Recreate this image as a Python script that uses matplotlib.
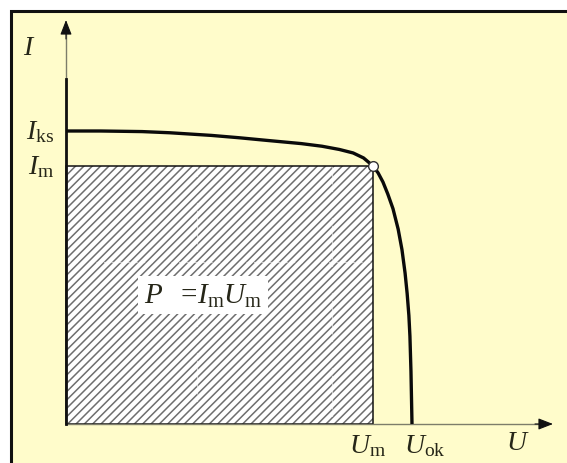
import matplotlib
matplotlib.use("Agg")
import matplotlib.pyplot as plt
from matplotlib.patches import Rectangle

plt.rcParams['mathtext.fontset'] = 'custom'
plt.rcParams['mathtext.it'] = 'Liberation Serif:italic'
plt.rcParams['mathtext.rm'] = 'Liberation Serif'
plt.rcParams['mathtext.bf'] = 'Liberation Serif:bold'
plt.rcParams['font.family'] = ['Liberation Serif', 'DejaVu Serif']
plt.rcParams['hatch.linewidth'] = 1.1

# ---- data (normalised: U_ok = 1, I_ks = 1) ----
U_curve = [0.0, 0.10, 0.22, 0.30, 0.42, 0.50, 0.58, 0.68, 0.74, 0.79, 0.83, 0.86, 0.887,
           0.902, 0.916, 0.930, 0.945, 0.960, 0.971, 0.980, 0.986, 0.991, 0.994, 0.997, 1.0]
I_curve = [1.0, 1.0, 0.998, 0.994, 0.985, 0.977, 0.968, 0.957, 0.948, 0.937, 0.925, 0.908, 0.881,
           0.857, 0.826, 0.785, 0.735, 0.665, 0.595, 0.515, 0.445, 0.370, 0.300, 0.180, 0.0]
I_ks = 1.0
I_m = 0.881
U_m = 0.887
U_ok = 1.0
grid_U = [0.379, 0.769]
grid_I = [0.553]

# pixel layout helpers (origin at pixel (66,425); 346 px per U unit, 293 px per I unit)
X0, Y0, SX, SY = 66, 425, 346, 293
def px(x):
    return (x - X0) / SX
def py(y):
    return (Y0 - y) / SY

fig = plt.figure(figsize=(5.67, 4.64), dpi=100)
fig.patch.set_facecolor('white')
ax = fig.add_axes([0, 0, 1, 1])
ax.set_xlim(px(0), px(567))
ax.set_ylim(py(464), py(0))
ax.axis('off')

# background frame
ax.add_patch(Rectangle((px(11), py(490)), px(600) - px(11), py(12) - py(490),
                       facecolor='#FFFCCB', edgecolor='#111111', lw=2.2, zorder=0))

# hatched power rectangle
ax.add_patch(Rectangle((0, 0), U_m, I_m, facecolor='white', edgecolor='#6e6e6e',
                       hatch='////', lw=0, zorder=1))
for gu in grid_U:
    ax.plot([gu, gu], [0, I_m], color='white', lw=0.9, ls=(0, (3, 3)), alpha=0.6, zorder=2)
for gi in grid_I:
    ax.plot([0, U_m], [gi, gi], color='white', lw=0.9, ls=(0, (3, 3)), alpha=0.6, zorder=2)
ax.add_patch(Rectangle((0, 0), U_m, I_m, facecolor='none', edgecolor='#111111',
                       lw=1.1, zorder=3))

# axes with arrows
ax.plot([0, px(545)], [0, 0], color='#7d7d6a', lw=1.0, zorder=3)
ax.plot([0, 0], [0, py(35)], color='#7d7d6a', lw=1.0, zorder=3)
ax.plot([0, 0], [0, py(80)], color='#111111', lw=2.0, zorder=3)
ax.annotate('', xy=(px(553), 0), xytext=(px(535), 0),
            arrowprops=dict(arrowstyle='-|>,head_length=0.9,head_width=0.35',
                            color='#111111', lw=0.8, shrinkA=0, shrinkB=0), zorder=4)
ax.annotate('', xy=(0, py(21)), xytext=(0, py(40)),
            arrowprops=dict(arrowstyle='-|>,head_length=0.9,head_width=0.35',
                            color='#111111', lw=0.8, shrinkA=0, shrinkB=0), zorder=4)

# I-U curve
ax.plot(U_curve, I_curve, color='#0a0a0a', lw=2.4, solid_capstyle='butt',
        solid_joinstyle='round', zorder=5)
ax.plot([U_m], [I_m], marker='o', ms=7, mfc='white', mec='#333333', mew=1.0, zorder=6)

# labels
tc = '#262618'
fs = 20
ax.text(px(29), py(49), r'$I$', fontsize=fs, color=tc, ha='center', va='center')
ax.text(px(54), I_ks, r'$I_{\rm ks}$', fontsize=fs, color=tc, ha='right', va='center')
ax.text(px(54), I_m, r'$I_{\rm m}$', fontsize=fs, color=tc, ha='right', va='center')
ax.text(U_m - px(373) + px(368), py(446), r'$U_{\rm m}$', fontsize=fs, color=tc,
        ha='center', va='center')
ax.text(U_ok + px(425) - px(412), py(446), r'$U_{\rm ok}$', fontsize=fs, color=tc,
        ha='center', va='center')
ax.text(px(518), py(444), r'$U$', fontsize=fs, color=tc, ha='center', va='center')

ax.text(px(203), py(296), r'$P\ \ =\!I_{\rm m}U_{\rm m}$', fontsize=21, color=tc,
        ha='center', va='center', zorder=7,
        bbox=dict(facecolor='white', edgecolor='none', pad=4))

fig.savefig('out.png', dpi=100)
